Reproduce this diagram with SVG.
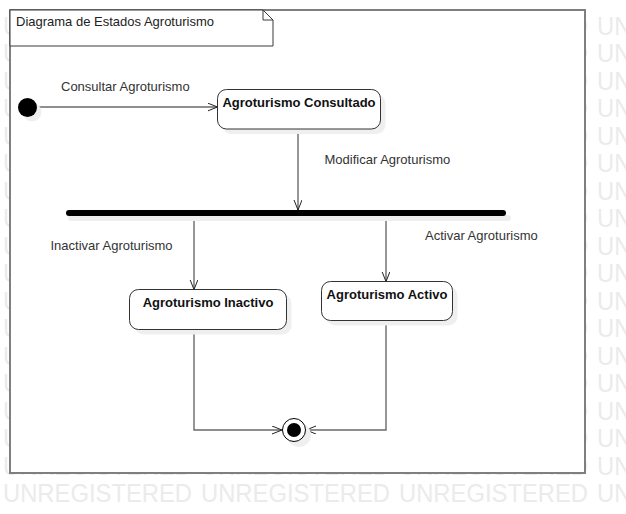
<svg xmlns="http://www.w3.org/2000/svg" xmlns:xlink="http://www.w3.org/1999/xlink" width="626" height="514" viewBox="0 0 626 514">
  <style>
    .wm { font-family: "Liberation Sans", Arial, sans-serif; font-size: 25px; fill: #ebebeb; }
    .lbl { font-family: "Liberation Sans", Arial, sans-serif; font-size: 13px; fill: #333333; }
    .name { font-family: "Liberation Sans", Arial, sans-serif; font-size: 13px; font-weight: bold; fill: #111111; text-anchor: middle; }
    .state { fill: #ffffff; stroke: #333333; stroke-width: 1; }
    .shadow { fill: #efefef; stroke: none; }
    .conn { fill: none; stroke: #6a6a6a; stroke-width: 1.4; marker-end: url(#arrow); }
  </style>
  <defs>
    <marker id="arrow" markerUnits="userSpaceOnUse" markerWidth="12" markerHeight="10" refX="10" refY="4" orient="auto">
      <path d="M0,0 L10,4 L0,8" fill="none" stroke="#222222" stroke-width="1"/>
    </marker>
    <g id="wm-row">
      <text class="wm" x="3" y="0" textLength="189" lengthAdjust="spacingAndGlyphs">UNREGISTERED</text>
      <text class="wm" x="201" y="0" textLength="189" lengthAdjust="spacingAndGlyphs">UNREGISTERED</text>
      <text class="wm" x="399" y="0" textLength="189" lengthAdjust="spacingAndGlyphs">UNREGISTERED</text>
      <text class="wm" x="597" y="0" textLength="189" lengthAdjust="spacingAndGlyphs">UNREGISTERED</text>
    </g>
  </defs>

  <rect x="0" y="0" width="626" height="514" fill="#ffffff"/>

  <g id="watermark">
    <use xlink:href="#wm-row" href="#wm-row" y="34.5"/>
    <use xlink:href="#wm-row" href="#wm-row" y="62"/>
    <use xlink:href="#wm-row" href="#wm-row" y="89.5"/>
    <use xlink:href="#wm-row" href="#wm-row" y="117"/>
    <use xlink:href="#wm-row" href="#wm-row" y="144.5"/>
    <use xlink:href="#wm-row" href="#wm-row" y="172"/>
    <use xlink:href="#wm-row" href="#wm-row" y="199.5"/>
    <use xlink:href="#wm-row" href="#wm-row" y="227"/>
    <use xlink:href="#wm-row" href="#wm-row" y="254.5"/>
    <use xlink:href="#wm-row" href="#wm-row" y="282"/>
    <use xlink:href="#wm-row" href="#wm-row" y="309.5"/>
    <use xlink:href="#wm-row" href="#wm-row" y="337"/>
    <use xlink:href="#wm-row" href="#wm-row" y="364.5"/>
    <use xlink:href="#wm-row" href="#wm-row" y="392"/>
    <use xlink:href="#wm-row" href="#wm-row" y="419.5"/>
    <use xlink:href="#wm-row" href="#wm-row" y="447"/>
    <use xlink:href="#wm-row" href="#wm-row" y="474.5"/>
    <use xlink:href="#wm-row" href="#wm-row" y="502"/>
  </g>

  <g id="frame">
    <rect x="10" y="10" width="575" height="463" fill="#ffffff" stroke="#7f7f7f" stroke-width="2"/>
    <path d="M10,10 H263 L273,20 V46 H10 Z" fill="#ffffff" stroke="#3a3a3a" stroke-width="1"/>
    <path d="M263,10 V20 H273" fill="none" stroke="#3a3a3a" stroke-width="1"/>
    <text class="lbl" x="16" y="26" style="fill:#222222">Diagrama de Estados Agroturismo</text>
  </g>

  <g id="connectors">
    <line class="conn" x1="37" y1="107" x2="217.5" y2="107"/>
    <line class="conn" x1="298" y1="129" x2="298" y2="210"/>
    <line class="conn" x1="194" y1="216" x2="194" y2="289.5"/>
    <line class="conn" x1="386" y1="216" x2="386" y2="281.5"/>
    <polyline class="conn" points="194,329.5 194,430 282,430"/>
    <polyline class="conn" points="386,321 386,430 306,430"/>
    <text class="lbl" x="61" y="91">Consultar Agroturismo</text>
    <text class="lbl" x="324.5" y="163.5">Modificar Agroturismo</text>
    <text class="lbl" x="50.5" y="250">Inactivar Agroturismo</text>
    <text class="lbl" x="425" y="239.5">Activar Agroturismo</text>
  </g>

  <g id="initial">
    <circle class="shadow" cx="32" cy="112" r="9.5"/>
    <circle cx="27.5" cy="107.5" r="9.5" fill="#000000"/>
  </g>

  <g id="consultado">
    <rect class="shadow" x="222.5" y="94.5" width="163" height="39.5" rx="9"/>
    <rect class="state" x="217.5" y="89.5" width="163" height="39.5" rx="9"/>
    <text class="name" x="299" y="106.7">Agroturismo Consultado</text>
  </g>

  <g id="fork">
    <line x1="71" y1="218" x2="508" y2="218" stroke="#efefef" stroke-width="6" stroke-linecap="round"/>
    <line x1="69" y1="213" x2="503" y2="213" stroke="#000000" stroke-width="6" stroke-linecap="round"/>
  </g>

  <g id="inactivo">
    <rect class="shadow" x="134.5" y="294.5" width="157" height="40" rx="9"/>
    <rect class="state" x="129.5" y="289.5" width="157" height="40" rx="9"/>
    <text class="name" x="208" y="307.3">Agroturismo Inactivo</text>
  </g>

  <g id="activo">
    <rect class="shadow" x="326.5" y="286.5" width="131" height="39" rx="9"/>
    <rect class="state" x="321.5" y="281.5" width="131" height="39" rx="9"/>
    <text class="name" x="387" y="299">Agroturismo Activo</text>
  </g>

  <g id="final">
    <circle class="shadow" cx="299" cy="435" r="12"/>
    <circle cx="294" cy="430" r="11.5" fill="#ffffff" stroke="#000000" stroke-width="1"/>
    <circle cx="294" cy="430" r="7" fill="#000000"/>
  </g>
</svg>
